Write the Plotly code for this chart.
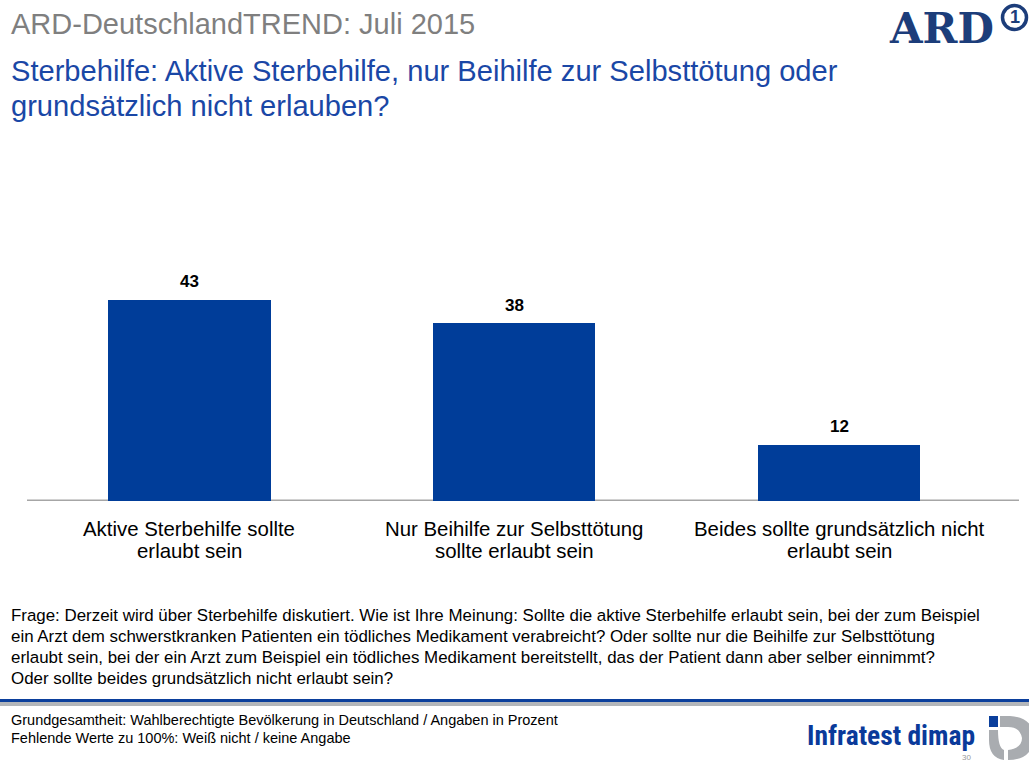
import plotly.graph_objects as go

# Survey results (percent)
categories = [
    ["Aktive Sterbehilfe sollte", "erlaubt sein"],
    ["Nur Beihilfe zur Selbsttötung", "sollte erlaubt sein"],
    ["Beides sollte grundsätzlich nicht", "erlaubt sein"],
]
values = [43, 38, 12]

header = "ARD-DeutschlandTREND: Juli 2015"
subtitle = ["Sterbehilfe: Aktive Sterbehilfe, nur Beihilfe zur Selbsttötung oder",
            "grundsätzlich nicht erlauben?"]
question = ["Frage: Derzeit wird über Sterbehilfe diskutiert. Wie ist Ihre Meinung: Sollte die aktive Sterbehilfe erlaubt sein, bei der zum Beispiel",
            "ein Arzt dem schwerstkranken Patienten ein tödliches Medikament verabreicht? Oder sollte nur die Beihilfe zur Selbsttötung",
            "erlaubt sein, bei der ein Arzt zum Beispiel ein tödliches Medikament bereitstellt, das der Patient dann aber selber einnimmt?",
            "Oder sollte beides grundsätzlich nicht erlaubt sein?"]
footnote = ["Grundgesamtheit: Wahlberechtigte Bevölkerung in Deutschland / Angaben in Prozent",
            "Fehlende Werte zu 100%: Weiß nicht / keine Angabe"]

BLUE = "#003D99"
NAVY = "#1C3D7A"
FONT = "Liberation Sans, Arial, sans-serif"

W, H = 1029, 762
ML, MR, MT, MB = 27, 10, 267, 261
PW, PH = W - ML - MR, H - MT - MB
x_idx = list(range(len(values)))


def px_x(p):
    # page pixel -> paper x (paper spans the plot area)
    return (p - ML) / PW


def px_y(p):
    return (H - MB - p) / PH


fig = go.Figure()
fig.add_trace(go.Bar(
    x=x_idx, y=values, width=0.5,
    marker=dict(color=BLUE, line=dict(width=0)),
    hoverinfo="skip",
))

annotations = []
# value labels above bars
for xi, v in zip(x_idx, values):
    annotations.append(dict(
        x=xi, y=v, xref="x", yref="y", text=f"<b>{v}</b>", showarrow=False,
        yanchor="middle", yshift=18, font=dict(family=FONT, size=17, color="#000000"),
    ))
# category labels under the axis
for xi, lines in zip(x_idx, categories):
    for k, line in enumerate(lines):
        annotations.append(dict(
            x=xi, y=px_y(529 + 22 * k), xref="x", yref="paper", text=line, showarrow=False,
            yanchor="middle", align="center",
            font=dict(family=FONT, size=20.4, color="#000000"),
        ))


def left_text(txt, ymid, size, color, family=FONT, x=9):
    return dict(x=px_x(x), y=px_y(ymid), xref="paper", yref="paper",
                xanchor="left", yanchor="middle", text=txt, showarrow=False,
                font=dict(family=family, size=size, color=color))


annotations.append(left_text(header, 24, 29, "#7F7F7F"))
for k, line in enumerate(subtitle):
    annotations.append(left_text(line, 71 + 35 * k, 29.1, "#1A47A6"))
for k, line in enumerate(question):
    annotations.append(left_text(line, 615 + 21.3 * k, 16.9, "#000000"))
for k, line in enumerate(footnote):
    annotations.append(left_text(line, 720 + 18 * k, 14.5, "#000000"))

annotations += [
    # ARD wordmark
    dict(x=px_x(996), y=px_y(28), xref="paper", yref="paper", xanchor="right", yanchor="middle",
         text="<b>ARD</b>", showarrow=False,
         font=dict(family="DejaVu Serif, Liberation Serif, serif", size=42, color=NAVY)),
    dict(x=px_x(1014.5), y=px_y(17.5), xref="paper", yref="paper", xanchor="center", yanchor="middle",
         text="<b>1</b>", showarrow=False,
         font=dict(family=FONT, size=18, color=NAVY)),
    # Infratest dimap wordmark
    dict(x=px_x(977), y=px_y(735), xref="paper", yref="paper", xanchor="right", yanchor="middle",
         text="<b>Infratest dimap</b>", showarrow=False,
         font=dict(family="Liberation Sans Narrow, Roboto Condensed, Liberation Sans, sans-serif",
                   size=27.5, color="#0A3A9A")),
    dict(x=px_x(966), y=px_y(751), xref="paper", yref="paper", xanchor="center", yanchor="top",
         text="30", showarrow=False, font=dict(family=FONT, size=8, color="#9A9A9A")),
]

shapes = [
    # footer rules
    dict(type="rect", xref="paper", yref="paper", x0=px_x(0), x1=px_x(W), y0=px_y(702), y1=px_y(699),
         fillcolor="#0B3F9C", line=dict(width=0)),
    dict(type="rect", xref="paper", yref="paper", x0=px_x(0), x1=px_x(W), y0=px_y(706), y1=px_y(702),
         fillcolor="#B3B6BA", line=dict(width=0)),
    # ARD "1" roundel
    dict(type="circle", xref="paper", yref="paper", x0=px_x(1002.5), x1=px_x(1026.5),
         y0=px_y(29.5), y1=px_y(5.5), line=dict(color=NAVY, width=3.5), fillcolor="white"),
    # Infratest dimap emblem
    dict(type="rect", xref="paper", yref="paper", x0=px_x(989), x1=px_x(998),
         y0=px_y(727), y1=px_y(716), fillcolor="#0B3F9C", line=dict(width=0)),
    dict(type="path", xref="paper", yref="paper",
         path=(f"M {px_x(1000)} {px_y(716)} L {px_x(1010)} {px_y(716)} "
               f"Q {px_x(1034)} {px_y(718)} {px_x(1034)} {px_y(738)} "
               f"Q {px_x(1032)} {px_y(760)} {px_x(1008)} {px_y(760)} "
               f"L {px_x(1008)} {px_y(750)} Q {px_x(1022)} {px_y(748)} {px_x(1022)} {px_y(738)} "
               f"Q {px_x(1020)} {px_y(727)} {px_x(1008)} {px_y(727)} L {px_x(1000)} {px_y(727)} Z"),
         fillcolor="#A9ACB0", line=dict(width=0)),
    dict(type="path", xref="paper", yref="paper",
         path=(f"M {px_x(989)} {px_y(730)} L {px_x(998)} {px_y(730)} "
               f"Q {px_x(998)} {px_y(748)} {px_x(1004)} {px_y(750)} L {px_x(1004)} {px_y(760)} "
               f"Q {px_x(989)} {px_y(758)} {px_x(989)} {px_y(740)} Z"),
         fillcolor="#A9ACB0", line=dict(width=0)),
    # baseline
    dict(type="line", xref="paper", yref="y", x0=0, x1=1, y0=0, y1=0,
         line=dict(color="#A6A6A6", width=3), layer="below"),
]

fig.update_layout(
    width=W, height=H,
    margin=dict(l=ML, r=MR, t=MT, b=MB, pad=0),
    paper_bgcolor="white", plot_bgcolor="white",
    showlegend=False,
    bargap=0,
    xaxis=dict(range=[-0.5, 2.554], showticklabels=False, showgrid=False, zeroline=False,
               showline=False, ticks=""),
    yaxis=dict(range=[0, 50], showticklabels=False, showgrid=False, zeroline=False,
               showline=False, ticks=""),
    annotations=annotations,
    shapes=shapes,
)

fig.write_html("out.html")
